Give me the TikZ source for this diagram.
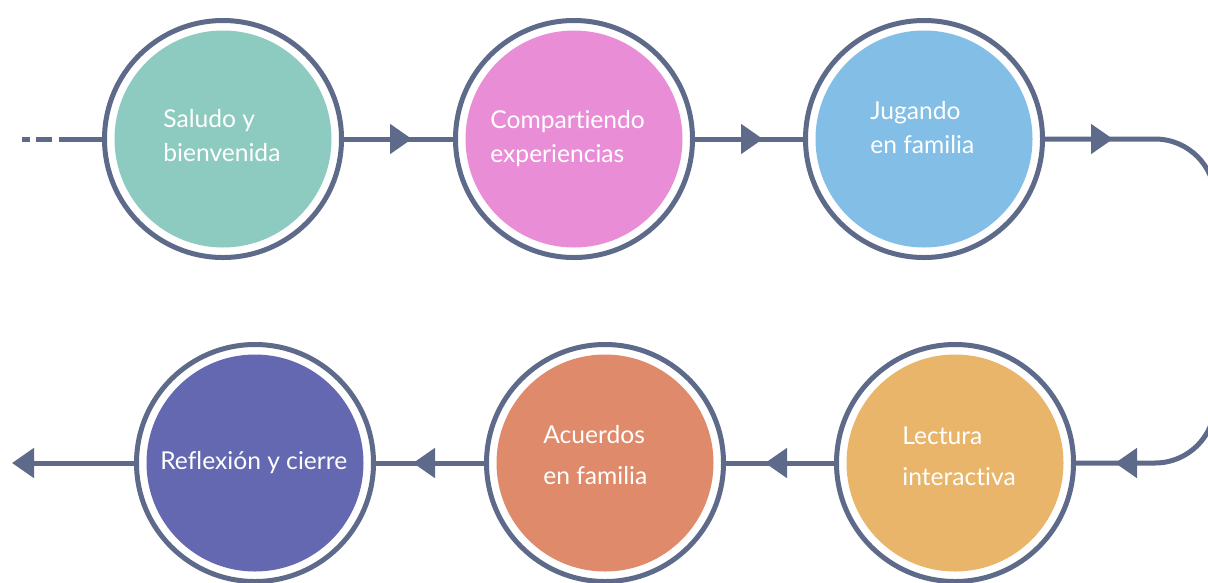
\documentclass[tikz,border=0pt]{standalone}
\usepackage{fontspec}
\setmainfont{Lato}[Ligatures={CommonOff,ContextualOff}]
\usetikzlibrary{arrows.meta,decorations.markings}
\definecolor{linec}{RGB}{93,106,137}
\definecolor{tealc}{RGB}{141,203,192}
\definecolor{pinkc}{RGB}{234,141,215}
\definecolor{bluec}{RGB}{130,190,230}
\definecolor{orangec}{RGB}{233,181,106}
\definecolor{salmonc}{RGB}{223,138,107}
\definecolor{purplec}{RGB}{99,104,177}
\tikzset{
	ring/.style={circle, draw=linec, line width=1mm, fill=white, minimum size=47.4mm, inner sep=0pt},
	disc/.style={circle, minimum size=43.4mm, inner sep=0pt},
	stagetext/.style={text=white, font=\fontsize{14}{18.8}\selectfont, align=left, anchor=base west, inner sep=0pt},
	widelines/.style={font=\fontsize{14}{22.8}\selectfont},
	flow/.style={draw=linec, line width=1mm},
	tipat/.style={postaction={decorate, decoration={markings, mark=at position #1 with {\arrow{Triangle[length=4.4mm,width=5.8mm]}}}}}
}

\begin{document}
\begin{tikzpicture}[x=0.2mm, y=-0.2mm]
		%%%%% START %%%%%
		\useasboundingbox (0, 0) rectangle (1208, 582);
		
		% upper row
		\node[ring] (c1) at (223, 139) {};
		\node[ring] (c2) at (574, 139) {};
		\node[ring] (c3) at (924, 139) {};
		\node[disc, fill=tealc] (d1) at (c1) {};
		\node[disc, fill=pinkc] (d2) at (c2) {};
		\node[disc, fill=bluec] (d3) at (c3) {};
		
		% lower row
		\node[ring] (c4) at (955, 463) {};
		\node[ring] (c5) at (605, 463) {};
		\node[ring] (c6) at (255, 463) {};
		\node[disc, fill=orangec] (d4) at (c4) {};
		\node[disc, fill=salmonc] (d5) at (c5) {};
		\node[disc, fill=purplec] (d6) at (c6) {};
		
		% labels (base = last line)
		\node[stagetext] (t1) at (163, 161) {Saludo y\\bienvenida};
		\node[stagetext] (t2) at (490, 162) {Compartiendo\\experiencias};
		\node[stagetext] (t3) at (870, 153) {Jugando\\en familia};
		\node[stagetext, widelines] (t4) at (902, 485) {Lectura\\interactiva};
		\node[stagetext, widelines] (t5) at (543, 484) {Acuerdos\\en familia};
		\node[stagetext] (t6) at (160, 469) {Reflexión y cierre};
		
		% connectors
		\coordinate (start) at (22, 139);
		\coordinate (turna) at (1215, 139);
		\coordinate (turnb) at (1215, 463);
		\coordinate (finish) at (12, 463);
		
		\draw[flow, dash pattern=on 1.6mm off 1.2mm on 3.2mm off 1.4mm on 40mm] (start) -- (c1);
		\draw[flow, tipat=13.6mm] (c1) -- (c2);
		\draw[flow, tipat=13.6mm] (c2) -- (c3);
		\draw[flow, rounded corners=12mm, tipat=13.6mm, tipat=-7.8mm] (c3) -- (turna) -- (turnb) -- (c4);
		\draw[flow, tipat=13.8mm] (c4) -- (c5);
		\draw[flow, tipat=14.2mm] (c5) -- (c6);
		\draw[flow, -{Triangle[length=4.4mm,width=5.8mm]}] (c6) -- (finish);
		
		%%%%% END %%%%%
	\end{tikzpicture}
\end{document}
